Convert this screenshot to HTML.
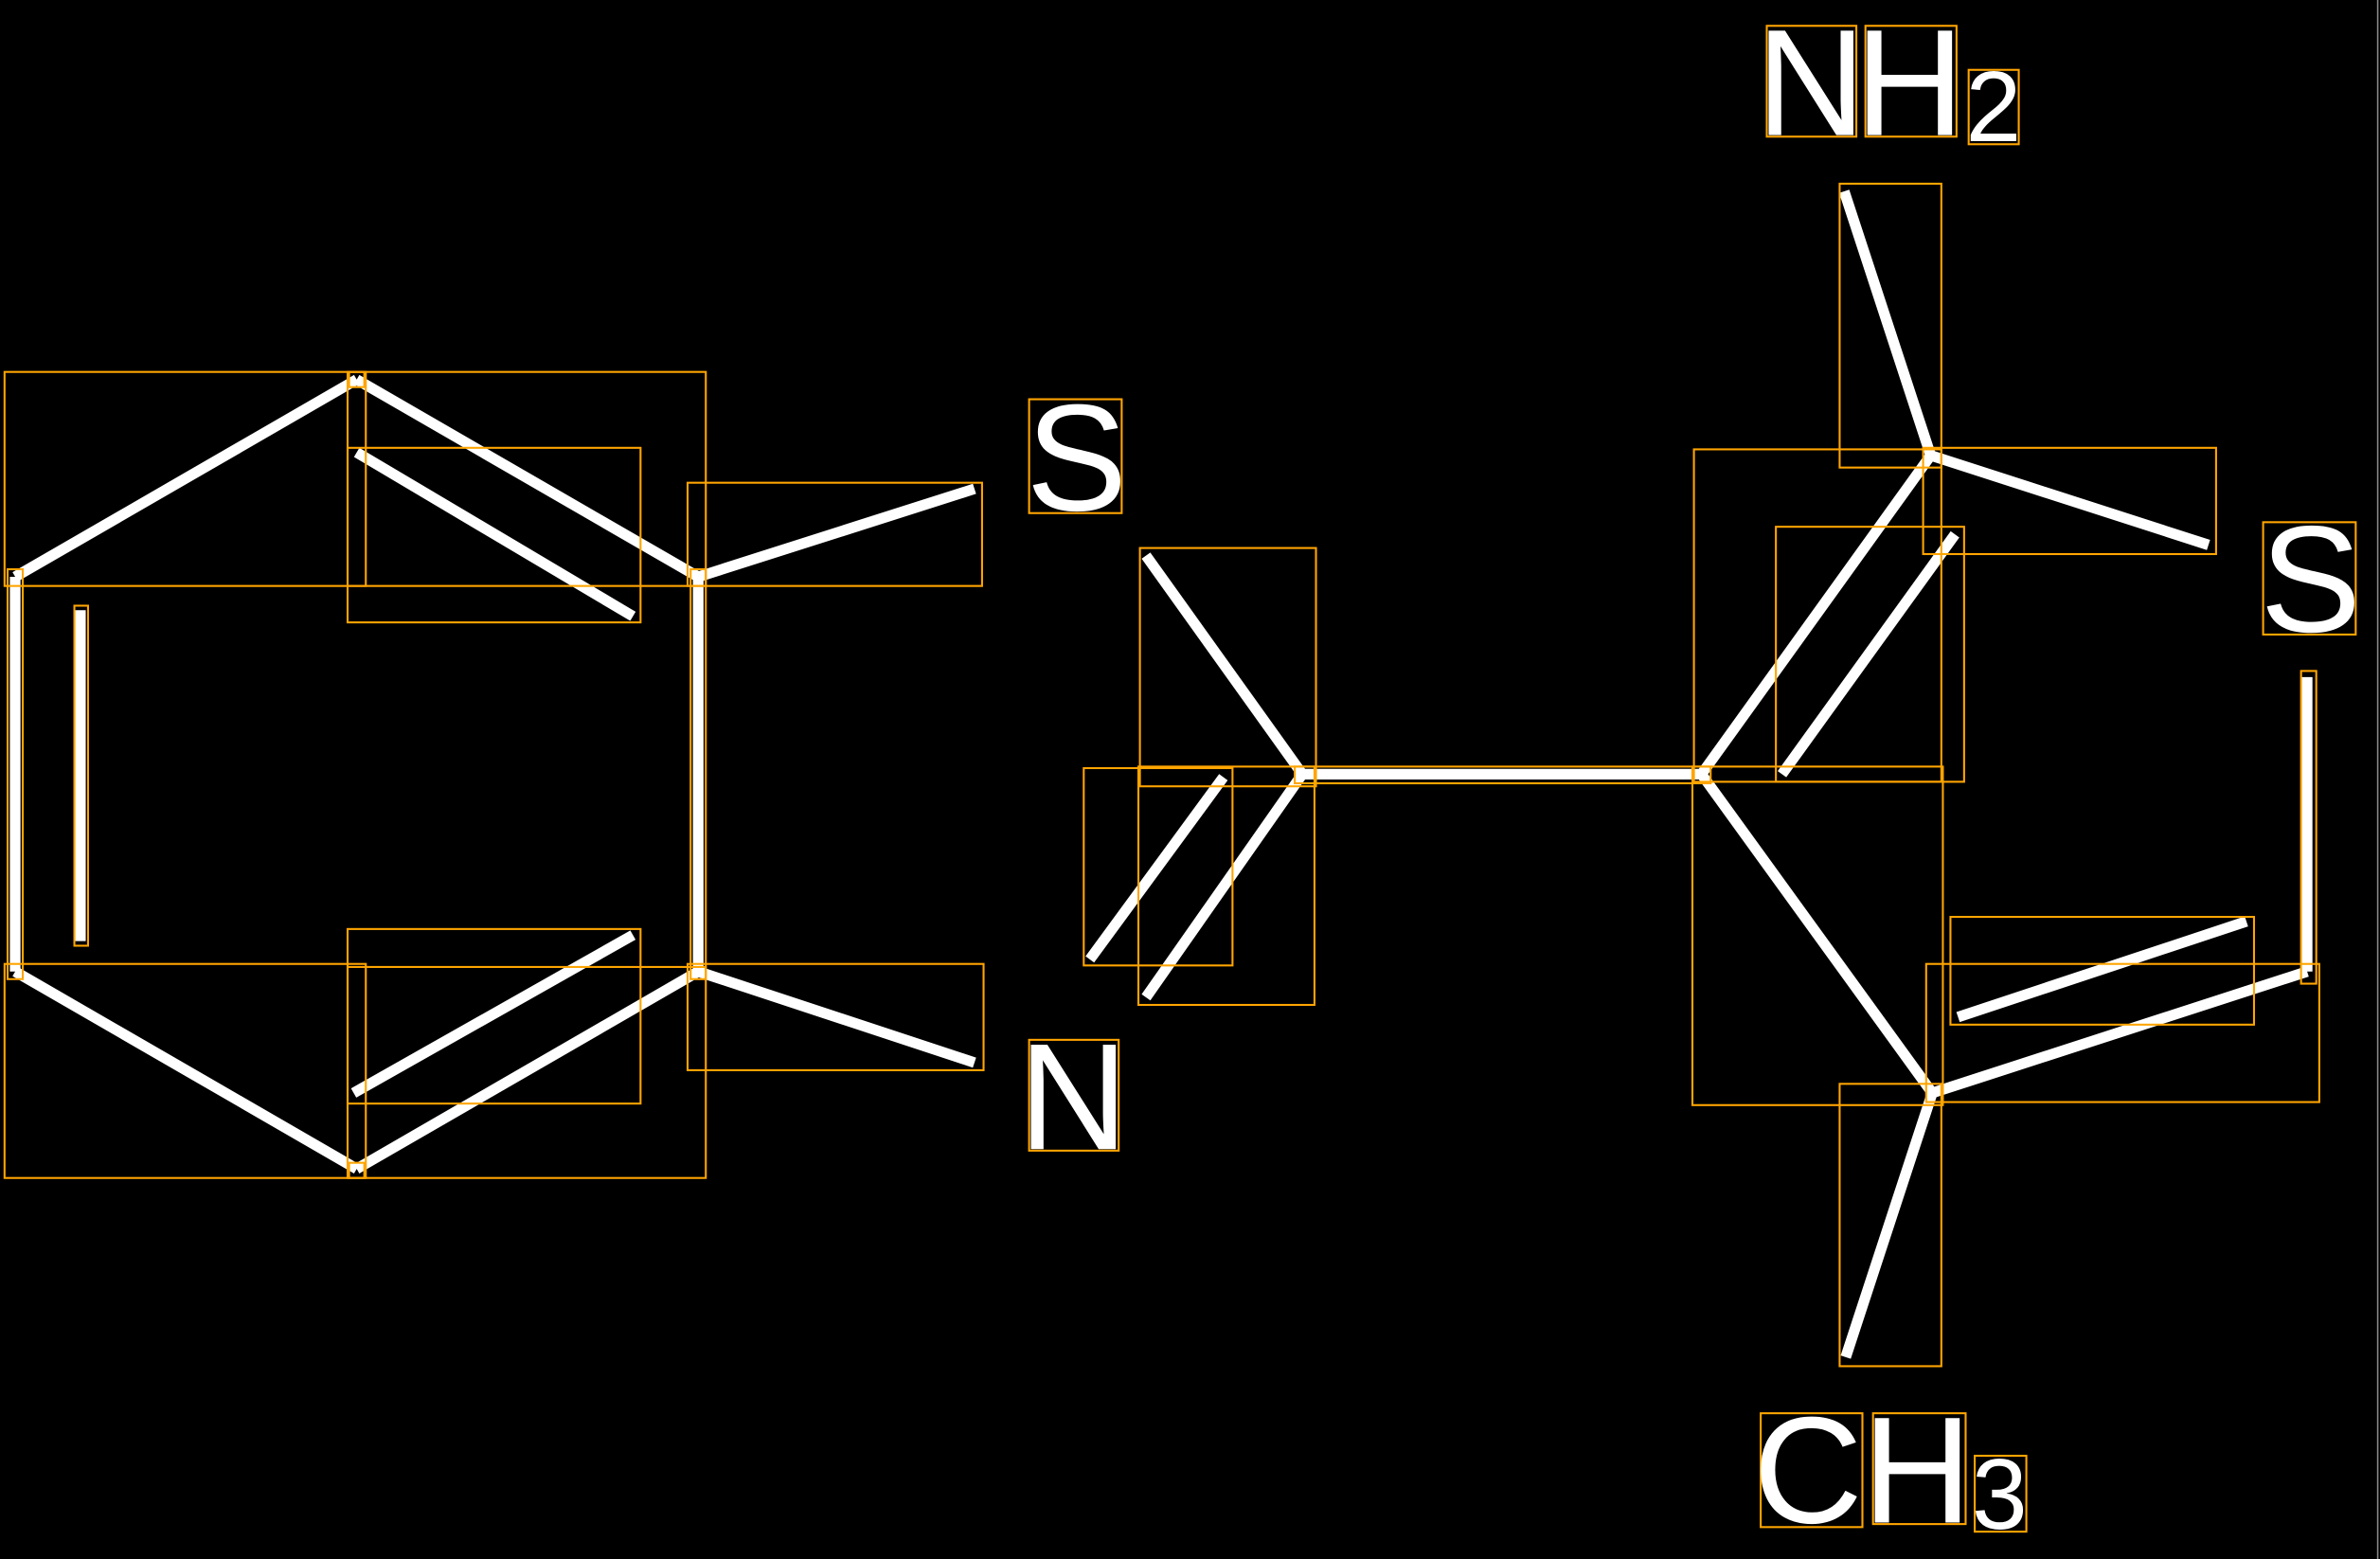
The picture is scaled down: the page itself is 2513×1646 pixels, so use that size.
<!DOCTYPE html>
<html><head><meta charset="utf-8"><style>
html,body{margin:0;padding:0;background:#000;overflow:hidden}
svg{display:block}
text{font-family:"Liberation Sans",sans-serif;fill:#fff}
</style></head><body>
<svg width="2513" height="1646" viewBox="0 0 1568 1027" xmlns="http://www.w3.org/2000/svg">
<rect x="0" y="0" width="1568" height="1027" fill="#000"/>
<line x1="1566.5" y1="0" x2="1566.5" y2="1027" stroke="#888" stroke-width="1"/>
<g stroke="#fff" stroke-width="7" stroke-linecap="butt">
<line x1="10" y1="380" x2="235" y2="250"/>
<line x1="235" y1="250" x2="460" y2="380"/>
<line x1="235" y1="298" x2="417" y2="406"/>
<line x1="10" y1="380" x2="10" y2="640"/>
<line x1="53" y1="402" x2="53" y2="620"/>
<line x1="460" y1="380" x2="460" y2="640"/>
<line x1="10" y1="640" x2="235" y2="770"/>
<line x1="235" y1="770" x2="460" y2="640"/>
<line x1="233" y1="720" x2="417" y2="616"/>
<line x1="460" y1="380" x2="642" y2="322"/>
<line x1="460" y1="640" x2="642" y2="700"/>
<line x1="755" y1="366" x2="858" y2="510"/>
<line x1="858" y1="510" x2="755" y2="657"/>
<line x1="718" y1="632" x2="806" y2="512"/>
<line x1="858" y1="510" x2="1121" y2="510"/>
<line x1="1121" y1="510" x2="1272" y2="300"/>
<line x1="1174" y1="510" x2="1288" y2="352"/>
<line x1="1272" y1="300" x2="1215" y2="126"/>
<line x1="1272" y1="300" x2="1455" y2="359"/>
<line x1="1121" y1="510" x2="1273" y2="720"/>
<line x1="1273" y1="720" x2="1520" y2="640"/>
<line x1="1290" y1="670" x2="1480" y2="607"/>
<line x1="1520" y1="640" x2="1520" y2="446"/>
<line x1="1273" y1="720" x2="1216" y2="894"/>
</g>
<g fill="none" stroke="#ffa500" stroke-width="1.3">
<rect x="3" y="245" width="238" height="141"/>
<rect x="229" y="245" width="236" height="141"/>
<rect x="229" y="295" width="193" height="115"/>
<rect x="453" y="318" width="194" height="68"/>
<rect x="5" y="375" width="10" height="270"/>
<rect x="455" y="375" width="10" height="270"/>
<rect x="49" y="399" width="9" height="224"/>
<rect x="3" y="635" width="238" height="141"/>
<rect x="229" y="637" width="236" height="139"/>
<rect x="229" y="612" width="193" height="115"/>
<rect x="453" y="635" width="195" height="70"/>
<rect x="230" y="245" width="10" height="10"/>
<rect x="230" y="766" width="10" height="10"/>
<rect x="751" y="361" width="116" height="157"/>
<rect x="750" y="505" width="116" height="157"/>
<rect x="714" y="506" width="98" height="130"/>
<rect x="853" y="505" width="274" height="11"/>
<rect x="1116" y="296" width="163" height="219"/>
<rect x="1170" y="347" width="124" height="168"/>
<rect x="1212" y="121" width="67" height="187"/>
<rect x="1267" y="295" width="193" height="70"/>
<rect x="1115" y="505" width="165" height="223"/>
<rect x="1269" y="635" width="259" height="91"/>
<rect x="1285" y="604" width="200" height="71"/>
<rect x="1516" y="442" width="10" height="206"/>
<rect x="1212" y="714" width="67" height="186"/>
<rect x="678" y="263" width="61" height="75"/>
<rect x="678" y="685" width="59" height="73"/>
<rect x="1164" y="17" width="59" height="73"/>
<rect x="1229" y="17" width="60" height="73"/>
<rect x="1297" y="46" width="33" height="49"/>
<rect x="1491" y="344" width="61" height="74"/>
<rect x="1160" y="931" width="67" height="75"/>
<rect x="1234" y="931" width="61" height="73"/>
<rect x="1301" y="959" width="34" height="50"/>
</g>
<g font-size="100">
<text x="676" y="336">S</text>
<text x="671" y="757">N</text>
<text x="1157" y="89">N</text>
<text x="1222" y="89">H</text>
<text x="1489" y="416">S</text>
<text x="1155" y="1003">C</text>
<text x="1227" y="1003">H</text>
</g>
<g font-size="66">
<text x="1295" y="93">2</text>
<text x="1299" y="1007">3</text>
</g>
</svg>
</body></html>
